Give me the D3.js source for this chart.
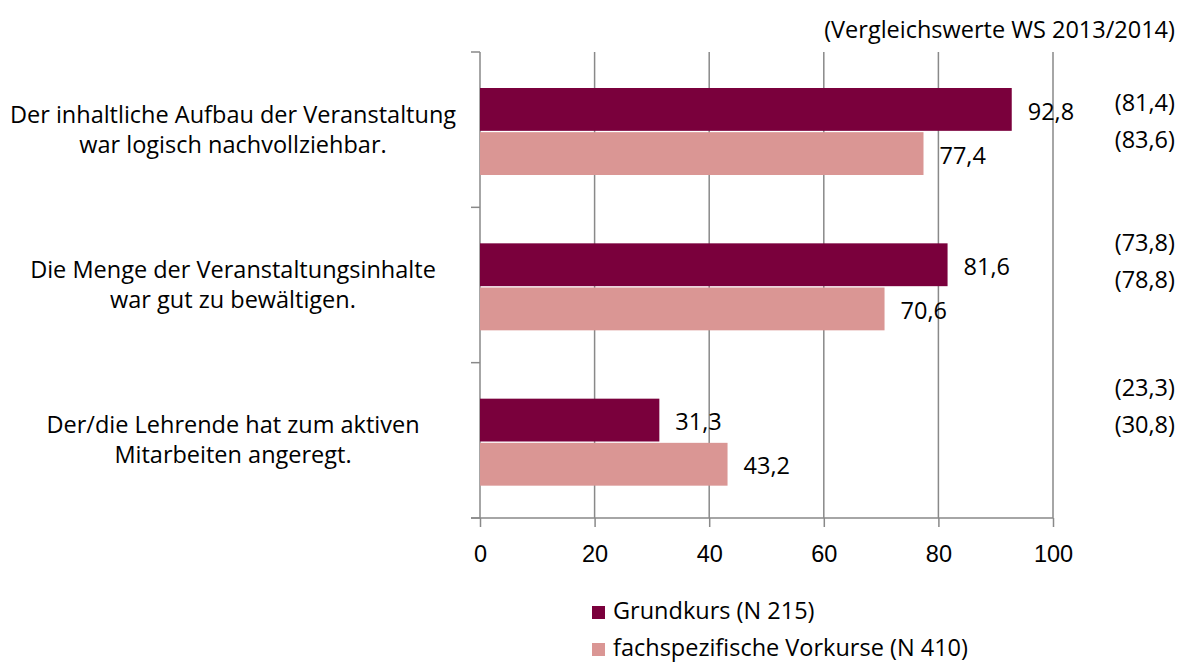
<!DOCTYPE html>
<html>
<head>
<meta charset="utf-8">
<script src="https://cdn.jsdelivr.net/npm/d3@7"></script>
<style>
  body { margin: 0; background: #fff; }
  svg { font-family: "Open Sans", Lato, sans-serif; }
</style>
</head>
<body>
<svg id="ctner"></svg>
<script>
const categories = [
  ["Der inhaltliche Aufbau der Veranstaltung", "war logisch nachvollziehbar."],
  ["Die Menge der Veranstaltungsinhalte", "war gut zu bewältigen."],
  ["Der/die Lehrende hat zum aktiven", "Mitarbeiten angeregt."],
];
const seriesNames = ["Grundkurs (N 215)", "fachspezifische Vorkurse (N 410)"];
const grundkurs = [92.8, 81.6, 31.3];
const vorkurse = [77.4, 70.6, 43.2];
const compareGrundkurs = ["(81,4)", "(73,8)", "(23,3)"];
const compareVorkurse = ["(83,6)", "(78,8)", "(30,8)"];
const xTicks = [0, 20, 40, 60, 80, 100];
const compareTitle = "(Vergleichswerte WS 2013/2014)";

const colors = ["#7a003c", "#da9694"];
const fmt = (v) => d3.format(".1f")(v).replace(".", ",");
const fontSize = 23.5;

main();

function main() {
  const width = 1181;
  const height = 664;
  const svg = d3.select("#ctner").attr("width", width).attr("height", height);

  /* layout */
  const plot = { left: 480, right: 1053, top: 52, bottom: 518 };

  /* scales */
  const x = d3.scaleLinear().domain([0, 100]).range([plot.left, plot.right]);
  const y = d3
    .scaleBand()
    .domain(d3.range(categories.length))
    .range([plot.top, plot.bottom])
    .padding(0);
  // bars in a group take ~86px of the 155px band
  const inner = d3
    .scaleBand()
    .domain([0, 1])
    .range([36, 36 + 87])
    .paddingInner(0.03);

  const gridColor = "#898989";

  /* vertical gridlines */
  svg
    .append("g")
    .selectAll("line")
    .data(xTicks.slice(1))
    .join("line")
    .attr("x1", (d) => x(d))
    .attr("x2", (d) => x(d))
    .attr("y1", plot.top)
    .attr("y2", plot.bottom)
    .attr("stroke", gridColor)
    .attr("stroke-width", 1.5);

  /* x axis */
  const xAxis = svg
    .append("g")
    .attr("transform", `translate(0, ${plot.bottom})`)
    .call(d3.axisBottom(x).tickValues(xTicks).tickSize(9).tickPadding(18).tickFormat((d) => d));
  xAxis.select(".domain").remove();
  xAxis.selectAll(".tick line").attr("stroke", gridColor).attr("stroke-width", 1.5);
  xAxis.selectAll(".tick text").attr("font-size", fontSize).attr("fill", "#000");
  xAxis
    .append("line")
    .attr("x1", plot.left - 9)
    .attr("x2", plot.right)
    .attr("stroke", gridColor)
    .attr("stroke-width", 1.5);

  /* y axis line + category ticks */
  const yAxis = svg.append("g");
  yAxis
    .append("line")
    .attr("x1", plot.left)
    .attr("x2", plot.left)
    .attr("y1", plot.top)
    .attr("y2", plot.bottom)
    .attr("stroke", gridColor)
    .attr("stroke-width", 1.5);
  yAxis
    .selectAll(".ytick")
    .data(d3.range(categories.length + 1))
    .join("line")
    .attr("class", "ytick")
    .attr("x1", plot.left - 9)
    .attr("x2", plot.left)
    .attr("y1", (i) => plot.top + i * y.step())
    .attr("y2", (i) => plot.top + i * y.step())
    .attr("stroke", gridColor)
    .attr("stroke-width", 1.5);

  /* category labels */
  const catG = svg
    .append("g")
    .selectAll("text")
    .data(categories)
    .join("text")
    .attr("x", 233)
    .attr("y", (d, i) => y(i) + y.bandwidth() / 2)
    .attr("text-anchor", "middle")
    .attr("font-size", fontSize)
    .attr("fill", "#000");
  catG
    .selectAll("tspan")
    .data((d) => d)
    .join("tspan")
    .attr("x", 233)
    .attr("dy", (d, j) => (j === 0 ? "-0.3em" : "1.28em"))
    .text((d) => d);

  /* bars */
  const series = [grundkurs, vorkurse];
  const barsG = svg.append("g");
  series.forEach((values, s) => {
    barsG
      .append("g")
      .selectAll("rect")
      .data(values)
      .join("rect")
      .attr("x", x(0))
      .attr("y", (d, i) => y(i) + inner(s))
      .attr("width", (d) => x(d) - x(0))
      .attr("height", inner.bandwidth())
      .attr("fill", colors[s]);
    barsG
      .append("g")
      .selectAll("text")
      .data(values)
      .join("text")
      .attr("x", (d) => x(d) + 16)
      .attr("y", (d, i) => y(i) + inner(s) + inner.bandwidth() / 2 + 2)
      .attr("dy", "0.35em")
      .attr("font-size", fontSize)
      .attr("fill", "#000")
      .text((d) => fmt(d));
  });

  /* comparison values */
  const compareShift = [-27, -42, -53];
  const compares = [compareGrundkurs, compareVorkurse];
  compares.forEach((vals, s) => {
    svg
      .append("g")
      .selectAll("text")
      .data(vals)
      .join("text")
      .attr("x", 1175)
      .attr("y", (d, i) => y(i) + y.bandwidth() / 2 + compareShift[i] + s * 37)
      .attr("dy", "0.35em")
      .attr("text-anchor", "end")
      .attr("font-size", fontSize)
      .attr("fill", "#000")
      .text((d) => d);
  });

  svg
    .append("text")
    .attr("x", 1175)
    .attr("y", 30)
    .attr("dy", "0.35em")
    .attr("text-anchor", "end")
    .attr("font-size", fontSize)
    .attr("fill", "#000")
    .text(compareTitle);

  /* legend */
  const legend = svg
    .append("g")
    .selectAll("g")
    .data(seriesNames)
    .join("g")
    .attr("transform", (d, i) => `translate(592, ${611 + i * 37})`);
  legend
    .append("rect")
    .attr("x", 0)
    .attr("y", -5)
    .attr("width", 13)
    .attr("height", 13)
    .attr("fill", (d, i) => colors[i]);
  legend
    .append("text")
    .attr("x", 21)
    .attr("y", 0)
    .attr("dy", "0.35em")
    .attr("font-size", fontSize)
    .attr("fill", "#000")
    .text((d) => d);
}
</script>
</body>
</html>
